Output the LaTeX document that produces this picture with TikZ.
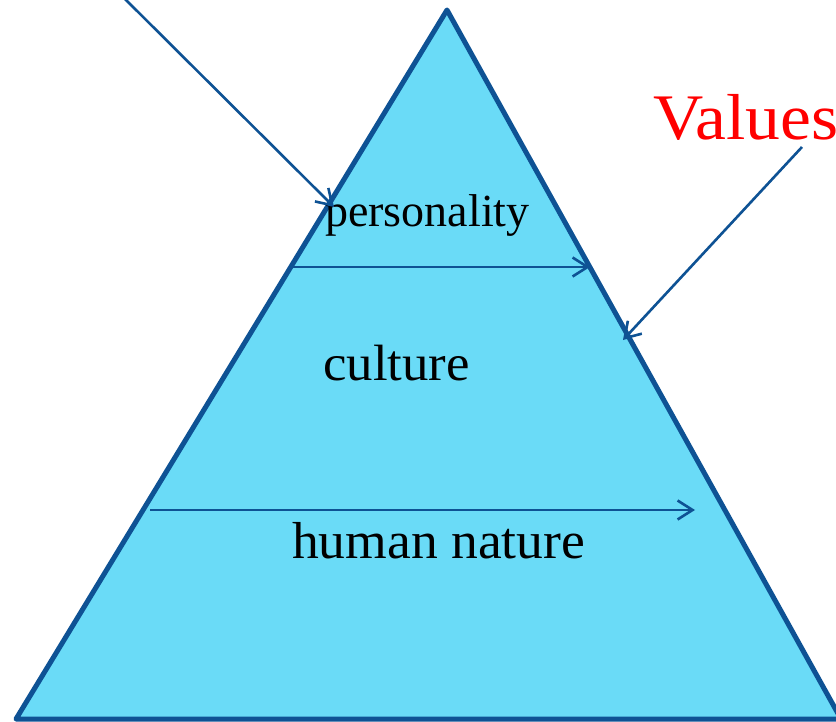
\documentclass[tikz,border=0pt]{standalone}
\usepackage{fontspec}
\setmainfont{Liberation Serif}
\usetikzlibrary{arrows.meta}
\definecolor{edgeblue}{RGB}{14,82,148}
\definecolor{fillcyan}{RGB}{106,219,247}
\definecolor{valred}{RGB}{255,0,0}
\tikzset{
  pyr/.style={draw=edgeblue, fill=fillcyan, line width=5pt, line join=round},
  conn/.style={draw=edgeblue, line width=2.6pt, -{Straight Barb[length=15pt,width=19pt,line width=2.6pt]}},
  lbl/.style={anchor=base west, inner sep=0pt, text=black}
}
\begin{document}
\begin{tikzpicture}[x=1pt,y=-1pt]
\useasboundingbox (0,0) rectangle (836,722);
\clip (0,0) rectangle (836,722);
\fill[white] (0,0) rectangle (836,722);
% pyramid
\coordinate (apex) at (447,10);
\coordinate (bl) at (16,719);
\coordinate (br) at (841,719);
\draw[pyr] (apex) -- (br) -- (bl) -- cycle;
% labels
\node[lbl, font=\fontsize{46}{50}\selectfont] (pers) at (325,227) {personality};
\node[lbl, font=\fontsize{51}{56}\selectfont] (cult) at (323,381) {\scalebox{1.035}[1]{culture}};
\node[lbl, font=\fontsize{52}{58}\selectfont] (hum) at (292,558) {\scalebox{1.03}[1]{human nature}};
\node[lbl, font=\fontsize{65}{70}\selectfont, text=valred] (val) at (653,140) {\scalebox{1.07}[1]{Values,}};
% connector end points
\coordinate (tlstart) at (119,-7);
\coordinate (tlend) at (334,207);
\coordinate (vstart) at (802,147);
\coordinate (vend) at (623,340);
\coordinate (h1s) at (291,267);
\coordinate (h1e) at (590,267);
\coordinate (h2s) at (150,510);
\coordinate (h2e) at (695,510);
\draw[conn] (tlstart) -- (tlend);
\draw[conn] (vstart) -- (vend);
\draw[conn] (h1s) -- (h1e);
\draw[conn] (h2s) -- (h2e);
\end{tikzpicture}
\end{document}
